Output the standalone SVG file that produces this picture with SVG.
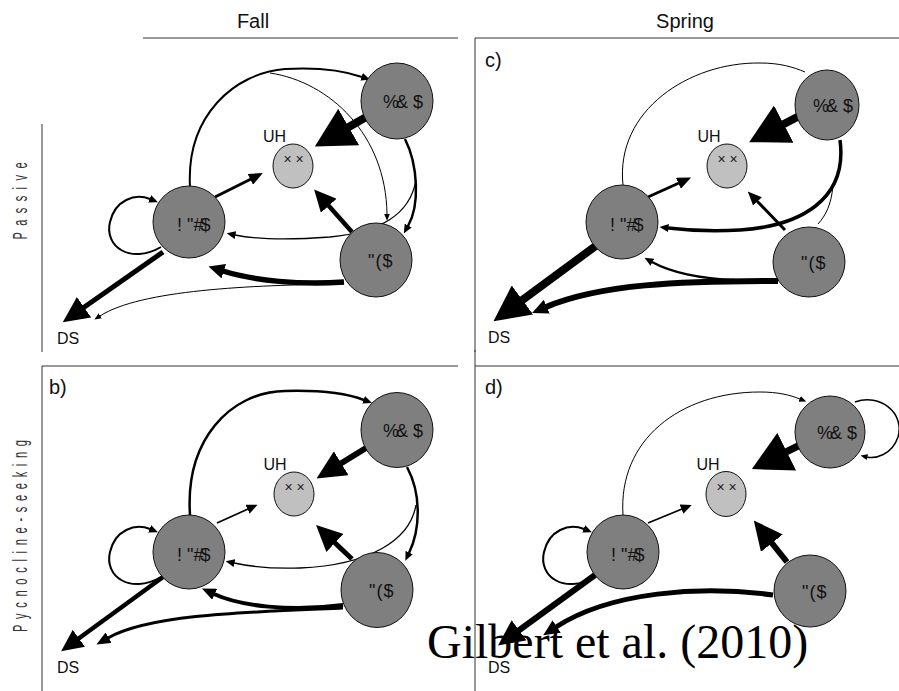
<svg xmlns="http://www.w3.org/2000/svg" width="899" height="691" viewBox="0 0 899 691">
  <style>
    .frame { stroke: #333; stroke-width: 1; fill: none; }
    .hdr { font-family: "Liberation Sans", Arial, sans-serif; font-size: 20px; fill: #111; }
    .side { font-family: "Liberation Sans", Arial, sans-serif; font-size: 20px; fill: #333; }
    .tag { font-family: "Liberation Sans", Arial, sans-serif; font-size: 20px; fill: #111; }
    .lbl { font-family: "Liberation Sans", Arial, sans-serif; font-size: 16px; fill: #111; }
    .big { fill: #7f7f7f; stroke: #111; stroke-width: 1; }
    .uh { fill: #c0c0c0; stroke: #111; stroke-width: 1; }
    .ntx { font-family: "Liberation Sans", Arial, sans-serif; font-size: 18px; fill: #111; }
    .xx { font-family: "Liberation Sans", Arial, sans-serif; font-size: 14px; fill: #222; }
    .cite { font-family: "Liberation Serif", "Times New Roman", serif; font-size: 48px; fill: #000; }
    .e { fill: none; stroke: #000; stroke-linecap: butt; }
  </style>
  <defs>
    <marker id="ah6" markerUnits="userSpaceOnUse" viewBox="0 0 10 10" refX="0.5" refY="5" markerWidth="7" markerHeight="6" preserveAspectRatio="none" orient="auto"><path d="M0,0 L10,5 L0,10 z" fill="#000"/></marker>
    <marker id="ah9" markerUnits="userSpaceOnUse" viewBox="0 0 10 10" refX="0.5" refY="5" markerWidth="9" markerHeight="8" preserveAspectRatio="none" orient="auto"><path d="M0,0 L10,5 L0,10 z" fill="#000"/></marker>
    <marker id="ah11" markerUnits="userSpaceOnUse" viewBox="0 0 10 10" refX="0.5" refY="5" markerWidth="11" markerHeight="10" preserveAspectRatio="none" orient="auto"><path d="M0,0 L10,5 L0,10 z" fill="#000"/></marker>
    <marker id="ah14" markerUnits="userSpaceOnUse" viewBox="0 0 10 10" refX="0.5" refY="5" markerWidth="14" markerHeight="12" preserveAspectRatio="none" orient="auto"><path d="M0,0 L10,5 L0,10 z" fill="#000"/></marker>
    <marker id="ah16" markerUnits="userSpaceOnUse" viewBox="0 0 10 10" refX="0.5" refY="5" markerWidth="16" markerHeight="15" preserveAspectRatio="none" orient="auto"><path d="M0,0 L10,5 L0,10 z" fill="#000"/></marker>
    <marker id="ah22" markerUnits="userSpaceOnUse" viewBox="0 0 10 10" refX="0.5" refY="5" markerWidth="22" markerHeight="21" preserveAspectRatio="none" orient="auto"><path d="M0,0 L10,5 L0,10 z" fill="#000"/></marker>
    <marker id="ah26" markerUnits="userSpaceOnUse" viewBox="0 0 10 10" refX="0.5" refY="5" markerWidth="26" markerHeight="25" preserveAspectRatio="none" orient="auto"><path d="M0,0 L10,5 L0,10 z" fill="#000"/></marker>
    <marker id="ah29" markerUnits="userSpaceOnUse" viewBox="0 0 10 10" refX="0.5" refY="5" markerWidth="29" markerHeight="28" preserveAspectRatio="none" orient="auto"><path d="M0,0 L10,5 L0,10 z" fill="#000"/></marker>
    <marker id="ah36" markerUnits="userSpaceOnUse" viewBox="0 0 10 10" refX="0.5" refY="5" markerWidth="36" markerHeight="36" preserveAspectRatio="none" orient="auto"><path d="M0,0 L10,5 L0,10 z" fill="#000"/></marker>
    <marker id="ah40" markerUnits="userSpaceOnUse" viewBox="0 0 10 10" refX="0.5" refY="5" markerWidth="39" markerHeight="42" preserveAspectRatio="none" orient="auto"><path d="M0,0 L10,5 L0,10 z" fill="#000"/></marker>
  </defs>

  <rect width="899" height="691" fill="#fff"/>

  <!-- frame lines and headings -->
  <g id="frame">
    <path class="frame" d="M143,38 H458 M475,38 H899 M475,38 V352 M42,124 V352 M42,691 V366 H458 M475,366 H899 M475,350 V691"/>
    <text class="hdr" x="253" y="28" text-anchor="middle">Fall</text>
    <text class="hdr" x="685" y="28" text-anchor="middle">Spring</text>
    <text class="side" transform="translate(27,201) rotate(-90) scale(0.55,1)" text-anchor="middle" textLength="140" lengthAdjust="spacing">Passive</text>
    <text class="side" transform="translate(27,536) rotate(-90) scale(0.55,1)" text-anchor="middle" textLength="349" lengthAdjust="spacing">Pycnocline-seeking</text>
    <text class="tag" x="485" y="67">c)</text>
    <text class="tag" x="49" y="394">b)</text>
    <text class="tag" x="485" y="394">d)</text>
  </g>

  <!-- connectors -->
  <g id="connectors">
    <!-- panel a -->
    <path class="e" stroke-width="2" d="M161,247 C130,265 104,246 110,222 C115,200 135,193 150,199" marker-end="url(#ah9)"/>
    <path class="e" stroke-width="3" d="M215,197 L251,179" marker-end="url(#ah14)"/>
    <path class="e" stroke-width="8" d="M368,116 L347,128" marker-end="url(#ah40)"/>
    <path class="e" stroke-width="4.5" d="M352,232 L328,205" marker-end="url(#ah22)"/>
    <path class="e" stroke-width="2" d="M190,187 C186,115 235,73 285,69 C320,67 345,71 362,77" marker-end="url(#ah9)"/>
    <path class="e" stroke-width="1" d="M270,73 C330,82 386,135 387,214" marker-end="url(#ah6)"/>
    <path class="e" stroke-width="2.5" d="M405,139 C418,165 420,205 408,226" marker-end="url(#ah9)"/>
    <path class="e" stroke-width="1.3" d="M416,180 C410,215 380,232 330,237 C290,240 255,239 235,235" marker-end="url(#ah9)"/>
    <path class="e" stroke-width="5.5" d="M344,282 C300,285 255,281 223,271" marker-end="url(#ah16)"/>
    <path class="e" stroke-width="1" d="M344,284 C250,285 140,290 100,316" marker-end="url(#ah6)"/>
    <path class="e" stroke-width="5" d="M163,252 L83,308" marker-end="url(#ah26)"/>

    <!-- panel c -->
    <path class="e" stroke-width="1" d="M623,185 C615,110 690,62 760,63 C780,63 793,67 805,72"/>
    <path class="e" stroke-width="3" d="M648,197 L679,183" marker-end="url(#ah14)"/>
    <path class="e" stroke-width="8" d="M803,114 L782,125" marker-end="url(#ah40)"/>
    <path class="e" stroke-width="3" d="M785,230 L757,201" marker-end="url(#ah14)"/>
    <path class="e" stroke-width="3.5" d="M840,140 C848,200 800,226 740,230 C710,232 685,230 668,228" marker-end="url(#ah9)"/>
    <path class="e" stroke-width="1" d="M833,186 C831,205 826,215 818,224"/>
    <path class="e" stroke-width="6" d="M778,281 C680,281 600,284 546,307" marker-end="url(#ah16)"/>
    <path class="e" stroke-width="2.5" d="M735,280 C700,279 670,272 652,262" marker-end="url(#ah9)"/>
    <path class="e" stroke-width="8" d="M597,245 L521,301" marker-end="url(#ah36)"/>

    <!-- panel b -->
    <path class="e" stroke-width="2" d="M161,577 C130,595 104,576 110,552 C115,530 135,523 150,529" marker-end="url(#ah9)"/>
    <path class="e" stroke-width="1.8" d="M217,523 L248,509" marker-end="url(#ah11)"/>
    <path class="e" stroke-width="6" d="M366,448 L340,464" marker-end="url(#ah29)"/>
    <path class="e" stroke-width="5" d="M352,559 L334,542" marker-end="url(#ah26)"/>
    <path class="e" stroke-width="2.5" d="M190,515 C185,440 230,392 285,391 C320,390 348,394 364,400" marker-end="url(#ah9)"/>
    <path class="e" stroke-width="2.5" d="M407,467 C422,495 420,530 409,553" marker-end="url(#ah9)"/>
    <path class="e" stroke-width="1.3" d="M416,505 C410,540 370,565 300,568 C270,569 248,566 234,563" marker-end="url(#ah9)"/>
    <path class="e" stroke-width="4" d="M343,605 C290,612 240,606 214,594" marker-end="url(#ah14)"/>
    <path class="e" stroke-width="3" d="M343,608 C250,612 150,614 108,638" marker-end="url(#ah14)"/>
    <path class="e" stroke-width="4.5" d="M163,577 L78,639" marker-end="url(#ah22)"/>

    <!-- panel d -->
    <path class="e" stroke-width="2" d="M595,577 C564,595 538,576 544,552 C549,530 569,523 584,529" marker-end="url(#ah9)"/>
    <path class="e" stroke-width="1" d="M623,515 C618,440 680,392 760,392 C778,392 790,395 800,399" marker-end="url(#ah6)"/>
    <path class="e" stroke-width="1.5" d="M855,402 C880,393 905,413 898,437 C892,455 875,459 867,457" marker-end="url(#ah6)"/>
    <path class="e" stroke-width="1.8" d="M648,523 L682,509" marker-end="url(#ah11)"/>
    <path class="e" stroke-width="7" d="M802,444 L785,452.5" marker-end="url(#ah40)"/>
    <path class="e" stroke-width="6" d="M787,562 L771,542" marker-end="url(#ah29)"/>
    <path class="e" stroke-width="5" d="M773,595 C700,585 610,592 556,627" marker-end="url(#ah16)"/>
    <path class="e" stroke-width="6" d="M595,575 L518,631" marker-end="url(#ah26)"/>
  </g>

  <!-- panel a nodes -->
  <g id="a-n1"><ellipse class="big" cx="397" cy="101" rx="36" ry="38"/><text class="ntx" x="383" y="108">%<tspan dx="-3">&amp;</tspan> $</text></g>
  <g id="a-uh"><ellipse class="uh" cx="293" cy="166" rx="20" ry="22"/><text class="xx" x="293.5" y="164" text-anchor="middle">× ×</text><text class="lbl" x="274.5" y="142" text-anchor="middle">UH</text></g>
  <g id="a-n2"><ellipse class="big" cx="189" cy="222" rx="36" ry="36"/><text class="ntx" x="177" y="231">! "#<tspan dx="-3">$</tspan></text></g>
  <g id="a-n3"><ellipse class="big" cx="376" cy="260" rx="36" ry="37"/><text class="ntx" x="368" y="267" letter-spacing="1">"($</text></g>
  <g id="a-ds"><text class="lbl" x="68" y="344" text-anchor="middle">DS</text></g>

  <!-- panel c nodes -->
  <g id="c-n1"><ellipse class="big" cx="827" cy="105" rx="32" ry="35"/><text class="ntx" x="813" y="112">%<tspan dx="-3">&amp;</tspan> $</text></g>
  <g id="c-uh"><ellipse class="uh" cx="727" cy="166" rx="20" ry="22"/><text class="xx" x="727.5" y="164" text-anchor="middle">× ×</text><text class="lbl" x="709" y="142" text-anchor="middle">UH</text></g>
  <g id="c-n2"><ellipse class="big" cx="622" cy="222" rx="36" ry="37"/><text class="ntx" x="610" y="231">! "#<tspan dx="-3">$</tspan></text></g>
  <g id="c-n3"><ellipse class="big" cx="809" cy="262" rx="36" ry="35"/><text class="ntx" x="801" y="269" letter-spacing="1">"($</text></g>
  <g id="c-ds"><text class="lbl" x="499" y="343" text-anchor="middle">DS</text></g>

  <!-- panel b nodes -->
  <g id="b-n1"><ellipse class="big" cx="397" cy="430" rx="36" ry="37.5"/><text class="ntx" x="383" y="437">%<tspan dx="-3">&amp;</tspan> $</text></g>
  <g id="b-uh"><ellipse class="uh" cx="294" cy="494" rx="20" ry="22"/><text class="xx" x="294.5" y="492" text-anchor="middle">× ×</text><text class="lbl" x="275" y="470" text-anchor="middle">UH</text></g>
  <g id="b-n2"><ellipse class="big" cx="189" cy="552" rx="36" ry="37"/><text class="ntx" x="177" y="561">! "#<tspan dx="-3">$</tspan></text></g>
  <g id="b-n3"><ellipse class="big" cx="377" cy="590" rx="36" ry="37.5"/><text class="ntx" x="369" y="597" letter-spacing="1">"($</text></g>
  <g id="b-ds"><text class="lbl" x="68" y="673" text-anchor="middle">DS</text></g>

  <!-- panel d nodes -->
  <g id="d-n1"><ellipse class="big" cx="830" cy="432" rx="35" ry="36"/><text class="ntx" x="817" y="439">%<tspan dx="-3">&amp;</tspan> $</text></g>
  <g id="d-uh"><ellipse class="uh" cx="726" cy="494" rx="20" ry="22.5"/><text class="xx" x="726.5" y="492" text-anchor="middle">× ×</text><text class="lbl" x="708" y="470" text-anchor="middle">UH</text></g>
  <g id="d-n2"><ellipse class="big" cx="623" cy="552" rx="36" ry="37"/><text class="ntx" x="611" y="561">! "#<tspan dx="-3">$</tspan></text></g>
  <g id="d-n3"><ellipse class="big" cx="810" cy="591" rx="36" ry="36"/><text class="ntx" x="802" y="598" letter-spacing="1">"($</text></g>
  <g id="d-ds"><text class="lbl" x="499" y="673" text-anchor="middle">DS</text></g>

  <!-- citation -->
  <text class="cite" x="427" y="658">Gilbert et al. (2010)</text>
</svg>
